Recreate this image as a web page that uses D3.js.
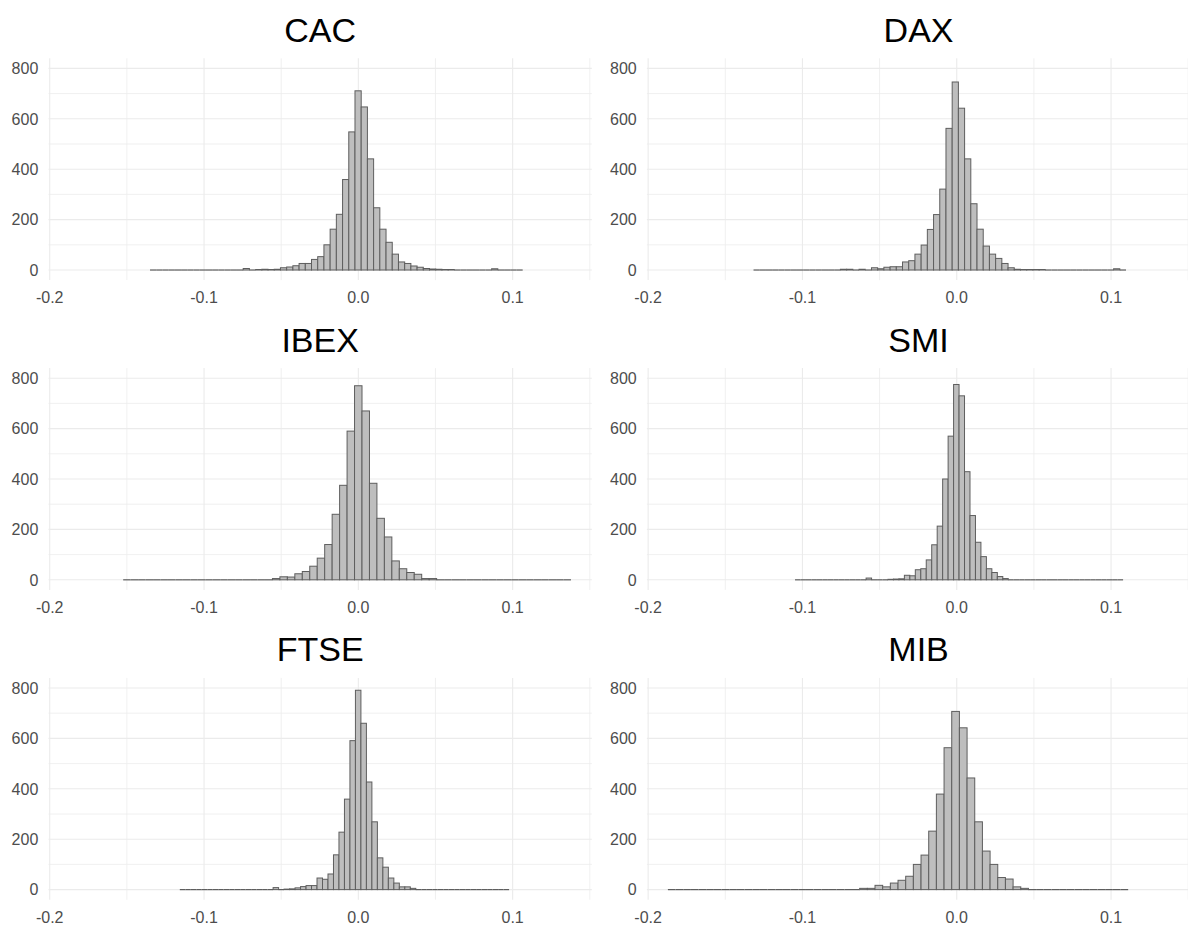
<!DOCTYPE html>
<html>
<head>
<meta charset="utf-8">
<script src="https://cdn.jsdelivr.net/npm/d3@7"></script>
<style>
  html, body { margin: 0; padding: 0; background: #ffffff; }
  svg { display: block; }
  text { font-family: "Liberation Sans", Arial, sans-serif; }
</style>
</head>
<body>
<svg id="chart" width="1188" height="929"></svg>
<script>
// ---------------- data ----------------
const panelNames = ["CAC", "DAX", "IBEX", "SMI", "FTSE", "MIB"];

// data range spanned by the 60 bins of each histogram [start, end]
const binRanges = [
  [-0.1350, 0.1065],
  [-0.1317, 0.1097],
  [-0.1524, 0.1378],
  [-0.1048, 0.1078],
  [-0.1157, 0.0977],
  [-0.1872, 0.1111]
];

// bin counts (60 bins each)
const cacCounts = [0,0,0,0,0,0,0,0,0,0, 0,0,0,0,0,6,0,2,3,2, 3,9,12,17,26,26,42,53,100,162, 221,359,548,711,647,441,247,162,110,63, 32,26,16,11,6,4,3,2,2,0, 0,0,0,0,0,5,0,0,0,0];
const daxCounts = [0,0,0,0,0,0,0,0,0,0, 0,0,0,0,3,3,0,3,0,9, 5,11,13,13,32,37,63,99,161,220, 321,562,746,642,441,263,162,95,63,46, 26,9,3,2,2,2,2,0,0,0, 0,0,0,0,0,0,0,0,5,0];
const ibexCounts = [0,0,0,0,0,0,0,0,0,0, 0,0,0,0,0,0,0,0,0,0, 5,12,11,24,33,54,86,140,260,375, 590,770,670,383,244,170,75,44,29,22, 5,5,0,0,0,0,0,0,0,0, 0,0,0,0,0,0,0,0,0,0];
const smiCounts = [0,0,0,0,0,0,0,0,0,0, 0,0,0,7,0,0,0,2,3,4, 18,16,40,44,79,139,213,400,570,775, 730,429,255,149,92,44,29,13,5,0, 0,0,0,0,0,0,0,0,0,0, 0,0,0,0,0,0,0,0,0,0];
const ftseCounts = [0,0,0,0,0,0,0,0,0,0, 0,0,0,0,0,0,0,8,0,2, 3,7,12,16,16,46,41,62,138,228, 359,591,791,660,427,269,126,89,46,26, 11,11,5,0,0,0,0,0,0,0, 0,0,0,0,0,0,0,0,0,0];
const mibCounts = [0,0,0,0,0,0,0,0,0,0, 0,0,0,0,0,0,0,0,0,0, 0,0,0,0,0,5,5,17,11,26, 37,53,100,137,232,379,563,707,642,443, 269,153,100,48,42,11,5,0,0,0, 0,0,0,0,0,0,0,0,0,0];
const allCounts = [cacCounts, daxCounts, ibexCounts, smiCounts, ftseCounts, mibCounts];

// axes
const xDomain = [-0.2008, 0.1513];
const yDomain = [-40, 840];
const xMajor = [-0.2, -0.1, 0.0, 0.1];
const xMinor = [-0.15, -0.05, 0.05, 0.15];
const xTickLabels = ["-0.2", "-0.1", "0.0", "0.1"];
const yMajor = [0, 200, 400, 600, 800];
const yMinor = [100, 300, 500, 700];

// ---------------- layout ----------------
const colLeft = [48.5, 646.9];
const panelW = 543.3;
const rowTop = [58.3, 368.1, 677.9];
const panelH = 221.8;

const svg = d3.select("#chart");

panelNames.forEach((name, p) => {
  const col = p % 2, row = Math.floor(p / 2);
  const left = colLeft[col], top = rowTop[row];
  const x = d3.scaleLinear().domain(xDomain).range([left, left + panelW]);
  const y = d3.scaleLinear().domain(yDomain).range([top + panelH, top]);
  const g = svg.append("g");

  // grid
  g.selectAll(".vmin").data(xMinor.filter(v => v >= xDomain[0] && v <= xDomain[1])).enter()
    .append("line").attr("x1", d => x(d)).attr("x2", d => x(d)).attr("y1", top).attr("y2", top + panelH)
    .attr("stroke", "#ececec").attr("stroke-width", 0.8);
  g.selectAll(".hmin").data(yMinor).enter()
    .append("line").attr("y1", d => y(d)).attr("y2", d => y(d)).attr("x1", left).attr("x2", left + panelW)
    .attr("stroke", "#ececec").attr("stroke-width", 0.8);
  g.selectAll(".vmaj").data(xMajor).enter()
    .append("line").attr("x1", d => x(d)).attr("x2", d => x(d)).attr("y1", top).attr("y2", top + panelH)
    .attr("stroke", "#ebebeb").attr("stroke-width", 1.1);
  g.selectAll(".hmaj").data(yMajor).enter()
    .append("line").attr("y1", d => y(d)).attr("y2", d => y(d)).attr("x1", left).attr("x2", left + panelW)
    .attr("stroke", "#ebebeb").attr("stroke-width", 1.1);

  // histogram bins
  const counts = allCounts[p];
  const [lo, hi] = binRanges[p];
  const bw = (hi - lo) / counts.length;
  const bins = counts.map((c, i) => ({ x0: lo + i * bw, x1: lo + (i + 1) * bw, n: c }));

  // zero-height bins are drawn as flat outlines along the baseline
  g.selectAll(".zero").data(bins.filter(d => d.n === 0)).enter().append("line")
    .attr("x1", d => x(d.x0)).attr("x2", d => x(d.x1))
    .attr("y1", y(0)).attr("y2", y(0))
    .attr("stroke", "#5e5e5e").attr("stroke-width", 1.2);

  g.selectAll(".bar").data(bins.filter(d => d.n > 0)).enter().append("rect")
    .attr("x", d => x(d.x0))
    .attr("width", d => x(d.x1) - x(d.x0))
    .attr("y", d => y(d.n))
    .attr("height", d => y(0) - y(d.n))
    .attr("fill", "#bebebe")
    .attr("stroke", "#5e5e5e")
    .attr("stroke-width", 1);

  // y tick labels
  g.selectAll(".ylab").data(yMajor).enter().append("text")
    .attr("x", left - 10.2).attr("y", d => y(d)).attr("dy", "0.36em")
    .attr("text-anchor", "end").attr("font-size", 16).attr("fill", "#4d4d4d")
    .text(d => d3.format("d")(d));

  // x tick labels
  g.selectAll(".xlab").data(xMajor).enter().append("text")
    .attr("x", d => x(d)).attr("y", y(0) + 33)
    .attr("text-anchor", "middle").attr("font-size", 16).attr("fill", "#4d4d4d")
    .text((d, i) => xTickLabels[i]);

  // title
  g.append("text")
    .attr("x", left + panelW / 2).attr("y", top - 16.6)
    .attr("text-anchor", "middle").attr("font-size", 34).attr("fill", "#000")
    .text(name);
});
</script>
</body>
</html>
